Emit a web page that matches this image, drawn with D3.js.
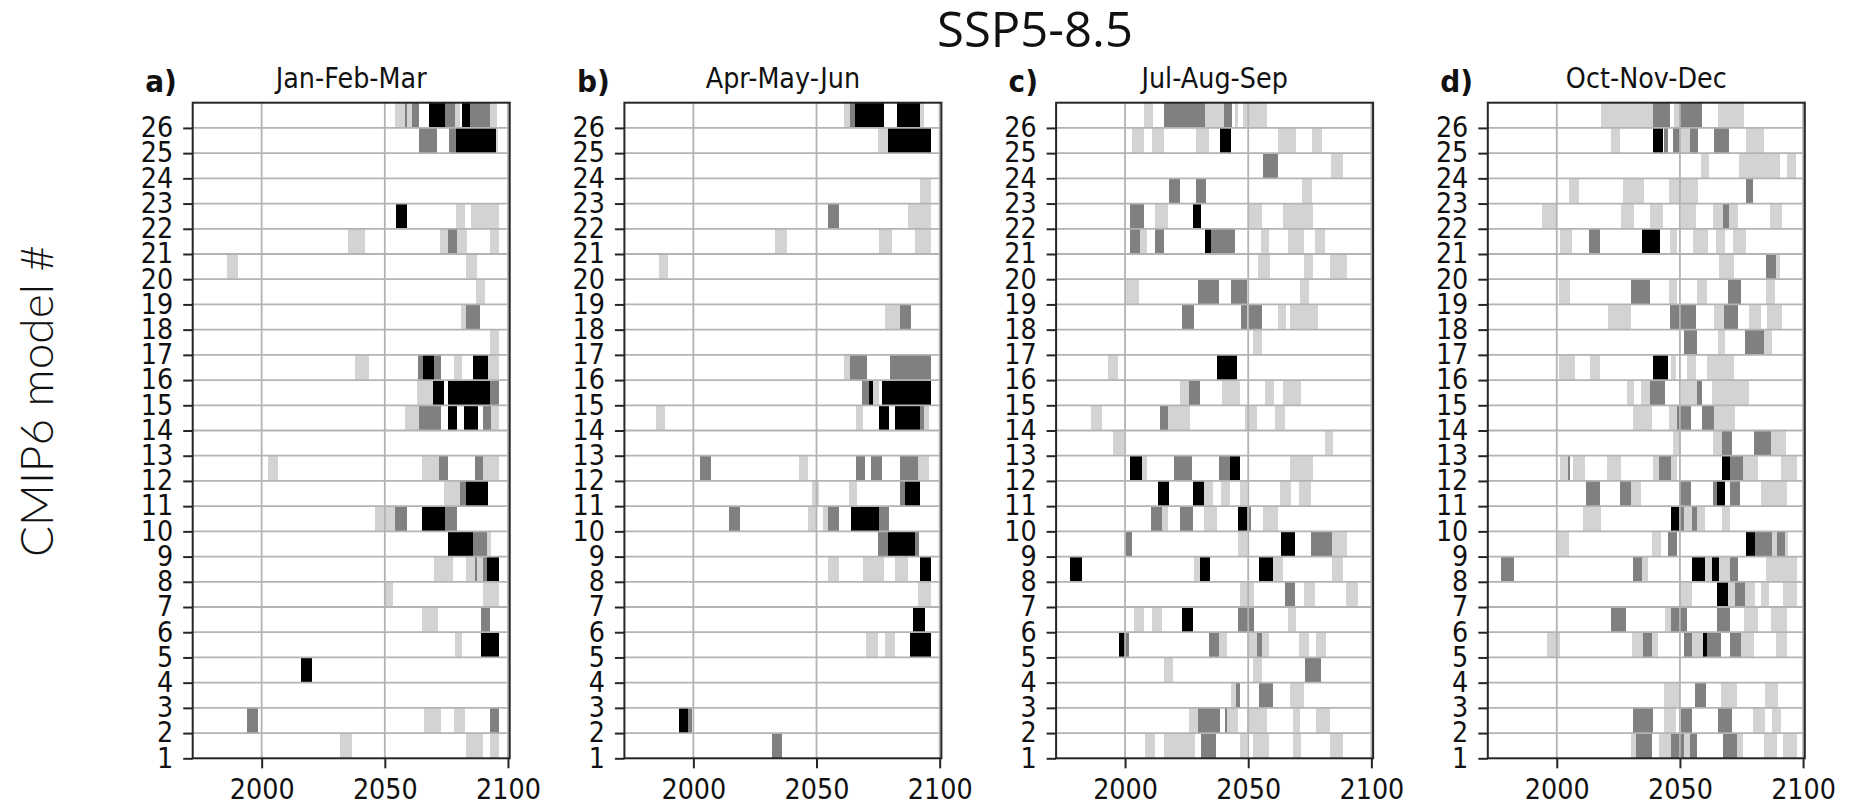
<!DOCTYPE html>
<html>
<head>
<meta charset="utf-8">
<script src="https://cdn.jsdelivr.net/npm/d3@7"></script>
<style>
  html, body { margin: 0; padding: 0; background: #ffffff; }
  svg { display: block; }
</style>
</head>
<body>
<svg id="chart" width="1860" height="805"></svg>
<script>
// ---------------- DATA ----------------
const figureTitle = "SSP5-8.5";
const yAxisLabel = "CMIP6 model #";
const panelLetters = ["a)", "b)", "c)", "d)"];
const seasons = ["Jan-Feb-Mar", "Apr-May-Jun", "Jul-Aug-Sep", "Oct-Nov-Dec"];
const models = d3.range(1, 27);          // 1..26
const xTicks = [2000, 2050, 2100];
const yearDomain = [1972, 2100.7];
// level: 1 = light grey, 2 = grey, 3 = black
const levelColors = ["#ffffff", "#d3d3d3", "#808080", "#000000"];

// [model, startYear, endYear, level]
const janFebMar = [
  [26,2054,2058,1],[26,2058,2059,2],[26,2059,2061,1],[26,2061,2064,2],[26,2068,2074.5,3],[26,2074.5,2078.5,2],[26,2078.5,2080.5,1],[26,2081.5,2084.5,3],[26,2084.5,2092.5,2],[26,2092.5,2095.5,1],
  [25,2064,2071,2],[25,2076,2079,2],[25,2079,2095,3],[25,2095,2096,1],
  [22,2054.5,2059,3],[22,2079,2082.5,1],[22,2085,2096.5,1],
  [21,2035,2042,1],[21,2072.5,2075.5,1],[21,2075.5,2079.5,2],[21,2079.5,2083.5,1],[21,2092.5,2096.5,1],
  [20,1986,1990.5,1],[20,2083,2087.5,1],
  [19,2087,2090.5,1],
  [18,2081,2083,1],[18,2083,2088.5,2],
  [17,2092.5,2096.5,1],
  [16,2038,2043.5,1],[16,2063.5,2065.5,2],[16,2065.5,2070,3],[16,2070,2073,2],[16,2078,2081.5,1],[16,2086,2092,3],[16,2092,2096.5,1],
  [15,2063,2069.5,1],[15,2069.5,2074,3],[15,2075.5,2092.5,3],[15,2092.5,2096.5,2],
  [14,2058,2064,1],[14,2064,2073,2],[14,2075.5,2079.5,3],[14,2082,2088,3],[14,2090,2093,2],[14,2093,2096.5,1],
  [12,2002.5,2006.5,1],[12,2065,2072,1],[12,2072,2075.5,2],[12,2086.5,2090,2],[12,2090,2096.5,1],
  [11,2074,2080.5,1],[11,2080.5,2083,2],[11,2083,2092,3],
  [10,2046,2054,1],[10,2054,2059,2],[10,2065,2074.5,3],[10,2074.5,2079.5,2],
  [9,2075.5,2086,3],[9,2086,2091.5,2],[9,2091.5,2093,1],
  [8,2070,2077.5,1],[8,2083,2086.5,1],[8,2086.5,2087.5,2],[8,2087.5,2090,1],[8,2090,2091.5,2],[8,2091.5,2096.5,3],
  [7,2050,2053.5,1],[7,2090,2096.5,1],
  [6,2065,2071.5,1],[6,2089,2092.5,2],
  [5,2078.5,2081.5,1],[5,2089,2096.5,3],
  [4,2016,2020.5,3],
  [2,1994,1998.5,2],[2,2066,2073,1],[2,2078,2082.5,1],[2,2092.5,2096.5,2],
  [1,2032,2036.5,1],[1,2083,2090,1],[1,2092.5,2096.5,1]
];

const aprMayJun = [
  [26,2061,2063.5,1],[26,2063.5,2065.5,2],[26,2065.5,2077.5,3],[26,2082.5,2092,3],[26,2092,2093.5,1],
  [25,2075,2079,1],[25,2079,2096.5,3],
  [23,2092,2096.5,1],
  [22,2054.5,2059,2],[22,2087,2096.5,1],
  [21,2033,2038,1],[21,2075.5,2080.5,1],[21,2090,2096.5,1],
  [20,1986,1989.5,1],
  [18,2078,2084,1],[18,2084,2088.5,2],
  [16,2061,2063.5,1],[16,2063.5,2070.5,2],[16,2080,2096.5,2],
  [15,2068.5,2071.5,2],[15,2071.5,2073,3],[15,2073,2075.5,1],[15,2076.5,2096.5,3],
  [14,1985,1988.5,1],[14,2066,2069,1],[14,2075.5,2079.5,3],[14,2082,2092,3],[14,2092,2093.5,2],[14,2093.5,2095.5,1],
  [12,2002.5,2007,2],[12,2043,2046.5,1],[12,2066,2069.5,2],[12,2072,2076.5,2],[12,2084,2091,2],[12,2091,2095.5,1],
  [11,2048,2051,1],[11,2063,2066.5,1],[11,2084,2086,2],[11,2086,2092,3],
  [10,2014.5,2019,2],[10,2046.5,2050,1],[10,2052.5,2054.5,1],[10,2054.5,2059,2],[10,2064,2075.5,3],[10,2075.5,2079.5,2],
  [9,2075,2079,2],[9,2079,2090,3],[9,2090,2091.5,2],
  [8,2054.5,2059,1],[8,2069,2077.5,1],[8,2082,2087,1],[8,2092,2096.5,3],
  [7,2091,2096.5,1],
  [6,2089,2094,3],
  [5,2070,2075,1],[5,2078,2082,1],[5,2088,2096.5,3],
  [2,1994,1998,3],[2,1998,1999.5,2],
  [1,2032,2036,2]
];

const julAugSep = [
  [26,2007.5,2011.5,1],[26,2016,2032.5,2],[26,2032.5,2040,1],[26,2040,2043.5,2],[26,2044.5,2046,1],[26,2048,2057.5,1],
  [25,2003,2007.5,1],[25,2011,2016,1],[25,2029,2034,1],[25,2038.5,2043,3],[25,2062,2069.5,1],[25,2076,2080,1],
  [24,2056,2062,2],[24,2083.5,2088.5,1],
  [23,2018,2022.5,2],[23,2029,2033,2],[23,2072,2076,1],
  [22,2002,2007.5,2],[22,2012,2017.5,1],[22,2027.5,2031,3],[22,2050,2055.5,1],[22,2064,2076.5,1],
  [21,2002,2006,2],[21,2006,2009,1],[21,2012,2016,2],[21,2032.5,2035,3],[21,2035,2044.5,2],[21,2055,2058.5,1],[21,2066,2072.5,1],[21,2077,2081,1],
  [20,2054,2059,1],[20,2072.5,2076.5,1],[20,2083,2090,1],
  [19,2000.5,2005.5,1],[19,2029.5,2038,2],[19,2043,2049.5,2],[19,2071,2074.5,1],
  [18,2023,2028,2],[18,2047,2049.5,2],[18,2050.5,2055.5,2],[18,2062,2065.5,1],[18,2067,2078.5,1],
  [17,2052,2055.5,1],
  [16,1993,1997,1],[16,2037.5,2045.5,3],
  [15,2022.5,2026,1],[15,2026,2030.5,2],[15,2039.5,2046.5,1],[15,2057,2060.5,1],[15,2064,2071.5,1],
  [14,1986,1990.5,1],[14,2014,2017.5,2],[14,2017.5,2026.5,1],[14,2048.5,2053.5,1],[14,2061,2065,1],
  [13,1995,1999.5,1],[13,2081,2084.5,1],
  [12,2002,2007,3],[12,2007,2009,1],[12,2020,2027,2],[12,2038,2042.5,2],[12,2042.5,2046.5,3],[12,2067,2076.5,1],
  [11,2013.5,2018,3],[11,2027.5,2032,3],[11,2032,2035.5,1],[11,2039,2042.5,1],[11,2046.5,2049.5,1],[11,2063,2067.5,1],[11,2070.5,2075.5,1],
  [10,2010.5,2015,2],[10,2015,2017.5,1],[10,2022.5,2027.5,2],[10,2032,2037.5,1],[10,2046,2049.5,3],[10,2049.5,2051,2],[10,2056,2062,1],
  [9,2000,2003,2],[9,2046,2049.5,1],[9,2063.5,2069,3],[9,2075.5,2084,2],[9,2084,2090,1],
  [8,1977.5,1982.5,3],[8,2028,2030.5,1],[8,2030.5,2034.5,3],[8,2054.5,2060,3],[8,2060,2064,1],[8,2084,2088.5,1],
  [7,2046.5,2052.5,1],[7,2065,2069,2],[7,2072.5,2077,1],[7,2089.5,2094.5,1],
  [6,2003.5,2007.5,1],[6,2011,2015,1],[6,2023,2027.5,3],[6,2046,2052.5,2],[6,2066,2069.5,1],
  [5,1997.5,2000,3],[5,2000,2001.5,2],[5,2034,2038,2],[5,2038,2041.5,1],[5,2049.5,2053.5,1],[5,2053.5,2055.5,2],[5,2055.5,2058.5,1],[5,2070.5,2074.5,1],[5,2077.5,2081.5,1],
  [4,2016,2019.5,1],[4,2052,2055.5,1],[4,2073,2079.5,2],
  [3,2043,2045,1],[3,2045,2046.5,2],[3,2054.5,2060,2],[3,2067,2072.5,1],
  [2,2026,2029.5,1],[2,2029.5,2038.5,2],[2,2040.5,2041.5,2],[2,2041.5,2046,1],[2,2049.5,2057.5,1],[2,2068,2071,1],[2,2077.5,2083,1],
  [1,2008,2012,1],[1,2016,2028.5,1],[1,2031,2037,2],[1,2046.5,2049.5,1],[1,2052,2058.5,1],[1,2068,2071.5,1],[1,2083,2088.5,1]
];

const octNovDec = [
  [26,2018,2039,1],[26,2039,2046,2],[26,2047.5,2049.5,1],[26,2050,2059,2],[26,2065.5,2076,1],
  [25,2022,2025.5,1],[25,2039,2043,3],[25,2043.5,2045,2],[25,2047,2049.5,2],[25,2049.5,2054,1],[25,2054,2057.5,2],[25,2064,2070,2],[25,2077,2084,1],
  [24,2058.5,2062,1],[24,2074,2090.5,1],[24,2093.5,2097,1],
  [23,2005,2009,1],[23,2027,2035.5,1],[23,2045.5,2057.5,1],[23,2077,2079.5,2],
  [22,1994,1999.5,1],[22,2026,2031.5,1],[22,2038,2043,1],[22,2050.5,2056.5,1],[22,2063.5,2067.5,1],[22,2067.5,2070,2],[22,2070,2073.5,1],[22,2086.5,2091.5,1],
  [21,2001.5,2006,1],[21,2013,2017.5,2],[21,2034.5,2042,3],[21,2046,2049,1],[21,2055.5,2061.5,1],[21,2064.5,2068.5,1],[21,2071.5,2077,1],
  [20,2066,2072,1],[20,2085,2089,2],[20,2089,2090.5,1],
  [19,2001,2005.5,1],[19,2030,2038,2],[19,2045.5,2049,1],[19,2057,2061,1],[19,2069.5,2075,2],[19,2085,2088.5,1],
  [18,2021,2030,1],[18,2046,2056.5,2],[18,2064,2068,1],[18,2068,2073.5,2],[18,2078,2083,1],[18,2085.5,2091.5,1],
  [17,2051.5,2057,2],[17,2065.5,2068.5,1],[17,2076.5,2084,2],[17,2084,2087.5,1],
  [16,2001,2007.5,1],[16,2013.5,2017.5,1],[16,2039,2045,3],[16,2046.5,2048.5,1],[16,2053,2056.5,1],[16,2061,2072,1],
  [15,2028.5,2031.5,1],[15,2034,2038,1],[15,2038,2044,2],[15,2050.5,2057,1],[15,2057,2059,2],[15,2063,2078,1],
  [14,2031,2038.5,1],[14,2045.5,2049,1],[14,2049,2054.5,2],[14,2059,2064,2],[14,2064,2072.5,1],
  [13,2047,2050.5,1],[13,2063.5,2067,1],[13,2067,2071,2],[13,2080,2087,2],[13,2087,2093,1],
  [12,2001.5,2004.5,1],[12,2004.5,2005.5,2],[12,2006.5,2011.5,1],[12,2020.5,2026,1],[12,2039,2041.5,1],[12,2041.5,2046.5,2],[12,2046.5,2049,1],[12,2067,2070.5,3],[12,2070.5,2075.5,2],[12,2075.5,2081.5,1],[12,2091,2097.5,1],
  [11,2012,2017.5,2],[11,2025.5,2030,2],[11,2030,2034,1],[11,2049.5,2054.5,2],[11,2063.5,2065,2],[11,2065,2068.5,3],[11,2070.5,2074.5,2],[11,2083,2093.5,1],
  [10,2010.5,2018,1],[10,2046.5,2050,3],[10,2050,2051.5,2],[10,2051.5,2055,1],[10,2055,2057,2],[10,2057,2060,1],[10,2067,2070.5,1],
  [9,2000.5,2005,1],[9,2038.5,2042.5,1],[9,2045,2049,2],[9,2077,2080.5,3],[9,2080.5,2087.5,2],[9,2087.5,2089.5,1],[9,2089.5,2092.5,2],[9,2092.5,2094,1],
  [8,1977.5,1982.5,2],[8,2031,2034.5,2],[8,2034.5,2037,1],[8,2055,2060,3],[8,2060,2063,1],[8,2063,2066,3],[8,2066,2070.5,1],[8,2070.5,2073.5,2],[8,2085,2097.5,1],
  [7,2050,2055,1],[7,2065,2069.5,3],[7,2069.5,2072.5,1],[7,2072.5,2076.5,2],[7,2076.5,2080.5,1],[7,2083,2086,1],[7,2092,2097.5,1],
  [6,2022,2028,2],[6,2044,2046.5,1],[6,2046.5,2053,2],[6,2065,2070.5,2],[6,2076,2081.5,1],[6,2087,2093.5,1],
  [5,1996,2001.5,1],[5,2030.5,2035,1],[5,2035,2038.5,2],[5,2038.5,2041,1],[5,2051.5,2055,2],[5,2055,2059.5,1],[5,2059.5,2061,3],[5,2061,2066.5,2],[5,2070.5,2075,2],[5,2075,2080,1],[5,2089,2093.5,1],
  [3,2043.5,2049.5,1],[3,2056,2060.5,2],[3,2066.5,2073,1],[3,2084.5,2090,1],
  [2,2031,2039,2],[2,2043.5,2048.5,1],[2,2050.5,2055,2],[2,2065.5,2071,2],[2,2079.5,2084.5,1],[2,2087.5,2091,1],
  [1,2030,2032,1],[1,2032,2038.5,2],[1,2041.5,2046.5,1],[1,2046.5,2051.5,2],[1,2051.5,2054,1],[1,2054,2057,2],[1,2067.5,2073,2],[1,2073,2075.5,1],[1,2084,2089.5,1],[1,2092,2097.5,1]
];

const panelData = [janFebMar, aprMayJun, julAugSep, octNovDec];

// ---------------- LAYOUT ----------------
const panelLeft0 = 192.7, panelStep = 431.7, panelW = 317;
const panelTop = 102.7, panelBottom = 758.3;
const panelH = panelBottom - panelTop;
const textStretch = 1.08;
const gridColor = "#b3b3b3";
const axisColor = "#262626";
const fontMain = "'DejaVu Sans', sans-serif";

const svg = d3.select("#chart");

// Figure title
svg.append("text")
  .attr("x", 1035).attr("y", 46.5)
  .attr("text-anchor", "middle")
  .attr("font-family", "'Open Sans', 'Noto Sans', sans-serif")
  .attr("font-size", 49)
  .attr("fill", "#111")
  .text(figureTitle);

// Y-axis label
svg.append("text")
  .attr("transform", "translate(53,401) rotate(-90)")
  .attr("text-anchor", "middle")
  .attr("font-family", "Lato, 'Open Sans', sans-serif")
  .attr("font-weight", 300)
  .attr("font-size", 46)
  .attr("fill", "#111")
  .text(yAxisLabel);

panelData.forEach((data, i) => {
  const left = panelLeft0 + i * panelStep;
  const g = svg.append("g").attr("transform", `translate(${left},${panelTop})`);

  const x = d3.scaleLinear().domain(yearDomain).range([0, panelW]);
  const y = d3.scaleLinear().domain([1, 27]).range([panelH, 0]);

  // bars
  g.append("g").selectAll("rect")
    .data(data)
    .join("rect")
    .attr("x", d => x(d[1]))
    .attr("width", d => x(d[2]) - x(d[1]))
    .attr("y", d => y(d[0] + 1))
    .attr("height", d => y(d[0]) - y(d[0] + 1))
    .attr("fill", d => levelColors[d[3]])
    .attr("shape-rendering", "crispEdges");

  // grid lines
  g.append("g").selectAll("line")
    .data(xTicks)
    .join("line")
    .attr("x1", d => x(d)).attr("x2", d => x(d))
    .attr("y1", 0).attr("y2", panelH)
    .attr("stroke", gridColor).attr("stroke-width", 1.8);
  g.append("g").selectAll("line")
    .data(models.filter(m => m > 1))
    .join("line")
    .attr("x1", 0).attr("x2", panelW)
    .attr("y1", d => y(d)).attr("y2", d => y(d))
    .attr("stroke", gridColor).attr("stroke-width", 1.8);

  // axes
  const yAxis = d3.axisLeft(y).tickValues(models).tickFormat(d3.format("d"))
    .tickSize(9.5).tickSizeOuter(0).tickPadding(10);
  const yg = g.append("g").call(yAxis);
  yg.select(".domain").remove();
  yg.selectAll(".tick line").attr("stroke", axisColor).attr("stroke-width", 2);
  yg.selectAll(".tick text")
    .attr("font-family", fontMain).attr("font-size", 25.5).attr("fill", "#111")
    .attr("transform", `scale(1,${textStretch})`);

  const xAxis = d3.axisBottom(x).tickValues(xTicks).tickFormat(d3.format("d"))
    .tickSize(10).tickSizeOuter(0).tickPadding(10);
  const xg = g.append("g").attr("transform", `translate(0,${panelH})`).call(xAxis);
  xg.select(".domain").remove();
  xg.selectAll(".tick line").attr("stroke", axisColor).attr("stroke-width", 2);
  xg.selectAll(".tick text")
    .attr("font-family", fontMain).attr("font-size", 25.5).attr("fill", "#111")
    .attr("transform", `scale(1,${textStretch})`);

  // frame
  g.append("rect")
    .attr("x", 0).attr("y", 0).attr("width", panelW).attr("height", panelH)
    .attr("fill", "none").attr("stroke", axisColor).attr("stroke-width", 2);

  // season title
  g.append("text")
    .attr("transform", `translate(${panelW / 2},${88 - panelTop}) scale(1,1.1)`)
    .attr("text-anchor", "middle")
    .attr("font-family", fontMain).attr("font-size", 25.5).attr("fill", "#111")
    .text(seasons[i]);

  // panel letter
  g.append("text")
    .attr("transform", `translate(-47.5,${92 - panelTop}) scale(1,1.05)`)
    .attr("font-family", fontMain).attr("font-weight", "bold")
    .attr("font-size", 28).attr("fill", "#111")
    .text(panelLetters[i]);
});
</script>
</body>
</html>
